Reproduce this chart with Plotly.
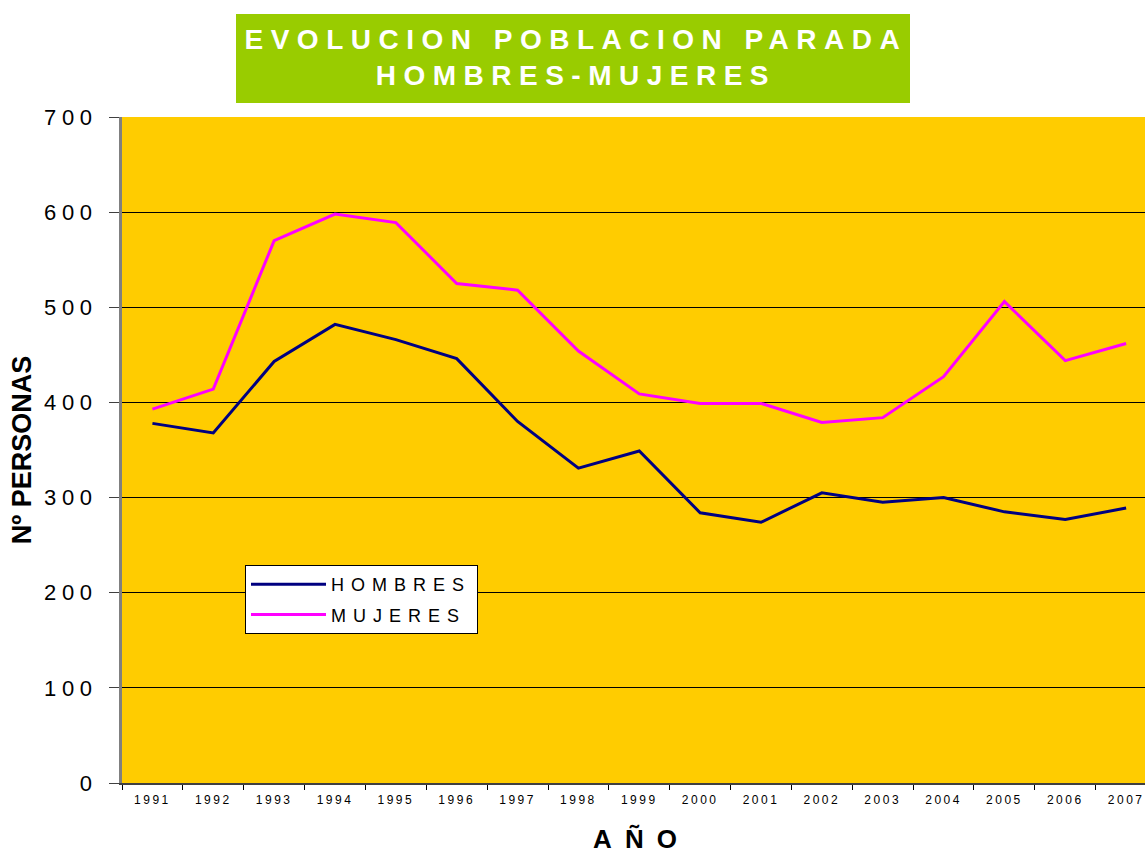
import plotly.graph_objects as go

years = ["1991", "1992", "1993", "1994", "1995", "1996", "1997", "1998", "1999",
         "2000", "2001", "2002", "2003", "2004", "2005", "2006", "2007"]
hombres = [378, 368, 443, 482, 466, 446, 380, 331, 349, 284, 274, 305, 295, 300, 285, 277, 289]
mujeres = [393, 414, 570, 598, 589, 525, 518, 454, 409, 399, 399, 379, 384, 427, 506, 444, 462]

fig = go.Figure()
fig.add_trace(go.Scatter(x=years, y=hombres, name="HOMBRES", mode="lines", legendgroup="h",
                         line=dict(color="#000080", width=3)))
fig.add_trace(go.Scatter(x=years, y=mujeres, name="MUJERES", mode="lines", legendgroup="m",
                         line=dict(color="#FF00FF", width=3)))

W, H = 1145, 855
L, R, T, B = 122, 0, 117, 72
pw, ph = W - L - R, H - T - B

def px(x):
    return (x - L) / pw

def py(y):
    return (H - B - y) / ph

fig.add_shape(type="rect", xref="paper", yref="paper",
              x0=px(236), x1=px(910), y0=py(103), y1=py(14),
              fillcolor="#99CC00", line=dict(width=0), layer="above")
fig.add_annotation(xref="paper", yref="paper", x=px(576), y=py(58),
                   text="EVOLUCION POBLACION PARADA<br>HOMBRES-MUJERES",
                   showarrow=False, font=dict(family="Liberation Sans, Arial", size=28,
                                              color="white", weight="bold"),
                   align="center", xanchor="center", yanchor="middle")

fig.update_layout(
    width=W, height=H,
    margin=dict(l=L, r=R, t=T, b=B),
    paper_bgcolor="white",
    plot_bgcolor="#FFCC00",
    font=dict(family="Liberation Sans, Arial", color="black"),
    showlegend=True,
    legend=dict(x=px(245), y=py(565), xanchor="left", yanchor="top",
                bgcolor="white", bordercolor="black", borderwidth=1,
                font=dict(size=18, color="black"), itemwidth=75,
                tracegroupgap=4),
    xaxis=dict(type="category", range=[-0.5, 16.31], tickson="boundaries",
               ticks="outside", ticklen=5, tickcolor="black",
               showline=True, linecolor="#404040", linewidth=2,
               showgrid=False, tickfont=dict(size=12, color="black"), ticklabelstandoff=5,
               title=dict(text="AÑO", font=dict(size=26, weight="bold"), standoff=23)),
    yaxis=dict(range=[0, 700], dtick=100, ticks="outside", ticklen=10, tickcolor="#404040",
               showline=True, linecolor="#808080", linewidth=3,
               showgrid=True, gridcolor="black", gridwidth=1, zeroline=False,
               tickfont=dict(size=22, color="black"), ticklabelstandoff=7,
               title=dict(text="Nº PERSONAS", font=dict(size=27, weight="bold"), standoff=22)),
)

post = """
var gd=document.getElementById('{plot_id}');
var s=document.createElement('style');
s.textContent='body{margin:0}.xtick text{letter-spacing:2.5px}.ytick text{letter-spacing:5.6px}'
+'.legendtext{letter-spacing:7px}.annotation-text{letter-spacing:7.5px}'
+'.g-xtitle text{letter-spacing:13px}.g-xtitle{transform:translateX(8px)}';
document.head.appendChild(s);
Plotly.relayout(gd, {'legend.font.size': 18.001});
"""
fig.write_html("out.html", post_script=post, config={"displayModeBar": False})
